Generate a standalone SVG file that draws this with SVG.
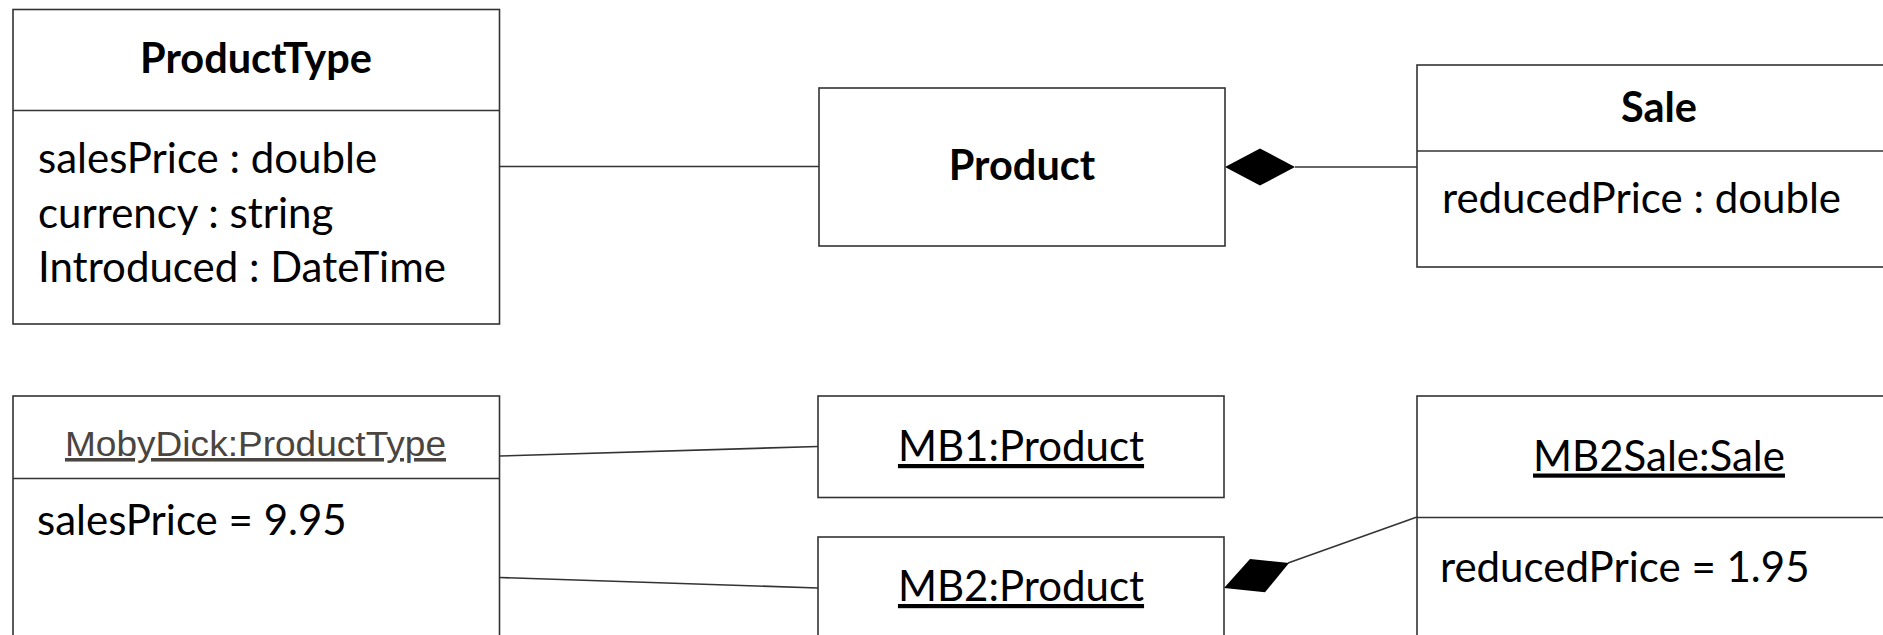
<svg xmlns="http://www.w3.org/2000/svg" width="1883" height="635" viewBox="0 0 1883 635">
<style>
.box{fill:#fff;stroke:#333;stroke-width:1.6}
.div{stroke:#333;stroke-width:1.6}
.conn{stroke:#333;stroke-width:1.6;fill:none}
.dia{fill:#000;stroke:none}
.t{font-family:Lato,"Open Sans",sans-serif;fill:#000}
.title{font-weight:bold;font-size:41.5px;text-anchor:middle}
.attr{font-size:42px}
.obj{font-size:42px;text-anchor:middle;text-decoration:underline}
.arial{font-family:"Liberation Sans",Arial,sans-serif;fill:#4a4540;font-size:35.5px;text-anchor:middle;text-decoration:underline}
</style>
<rect width="1883" height="635" fill="#fff"/>
<g id="connectors">
<line class="conn" x1="499.5" y1="166.5" x2="819" y2="166.5"/>
<line class="conn" x1="1295" y1="167" x2="1417" y2="167"/>
<polygon class="dia" points="1225,167 1260,148.5 1295,167 1260,185.5"/>
<line class="conn" x1="499.5" y1="456" x2="818" y2="446.5"/>
<line class="conn" x1="499.5" y1="577.5" x2="818" y2="588"/>
<line class="conn" x1="1288" y1="563" x2="1417" y2="517"/>
<polygon class="dia" points="1224,588 1250,559 1289,563 1265,592.3"/>
</g>
<g id="ProductType">
<rect class="box" x="13" y="9.5" width="486.5" height="314.5"/>
<line class="div" x1="13" y1="110.5" x2="499.5" y2="110.5"/>
<text class="t title" x="256" y="73">ProductType</text>
<text class="t attr" x="38" y="173">salesPrice : double</text>
<text class="t attr" x="38" y="228">currency : string</text>
<text class="t attr" x="38" y="282">Introduced : DateTime</text>
</g>
<g id="Product">
<rect class="box" x="819" y="88" width="406" height="158"/>
<text class="t title" x="1022" y="180">Product</text>
</g>
<g id="Sale">
<rect class="box" x="1417" y="65" width="484" height="202"/>
<line class="div" x1="1417" y1="151" x2="1901" y2="151"/>
<text class="t title" x="1659" y="122">Sale</text>
<text class="t attr" x="1442" y="213">reducedPrice : double</text>
</g>
<g id="MobyDick">
<rect class="box" x="13" y="396" width="486.5" height="260"/>
<line class="div" x1="13" y1="478.5" x2="499.5" y2="478.5"/>
<text class="arial" x="255.5" y="456" textLength="381" lengthAdjust="spacingAndGlyphs">MobyDick:ProductType</text>
<text class="t attr" x="37" y="535">salesPrice = 9.95</text>
</g>
<g id="MB1">
<rect class="box" x="818" y="396" width="406" height="101.5"/>
<text class="t obj" x="1021" y="461">MB1:Product</text>
</g>
<g id="MB2">
<rect class="box" x="818" y="537" width="406" height="120"/>
<text class="t obj" x="1021" y="601">MB2:Product</text>
</g>
<g id="MB2Sale">
<rect class="box" x="1417" y="396" width="484" height="260"/>
<line class="div" x1="1417" y1="517.5" x2="1901" y2="517.5"/>
<text class="t obj" x="1659" y="470.5">MB2Sale:Sale</text>
<text class="t attr" x="1440" y="581.5">reducedPrice = 1.95</text>
</g>
</svg>
